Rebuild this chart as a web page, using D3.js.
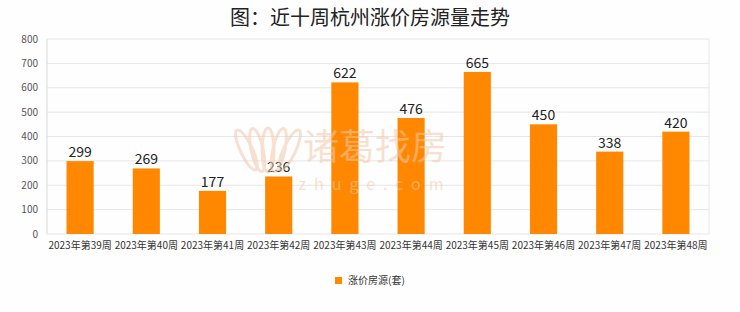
<!DOCTYPE html>
<html>
<head>
<meta charset="utf-8">
<script src="https://cdn.jsdelivr.net/npm/d3@7"></script>
<style>
  body { margin: 0; background: #fff; }
  text { font-family: "Noto Sans CJK SC", "Noto Sans", sans-serif; }
</style>
</head>
<body>
<div id="chart"></div>
<script>
const weeks = ["2023年第39周", "2023年第40周", "2023年第41周", "2023年第42周", "2023年第43周",
               "2023年第44周", "2023年第45周", "2023年第46周", "2023年第47周", "2023年第48周"];
const counts = [299, 269, 177, 236, 622, 476, 665, 450, 338, 420];
const yTicks = [0, 100, 200, 300, 400, 500, 600, 700, 800];

const width = 740, height = 312;
const margin = { top: 39, right: 31, bottom: 78, left: 47 };
const innerW = width - margin.left - margin.right;
const innerH = height - margin.top - margin.bottom;

const svg = d3.select("#chart").append("svg")
    .attr("width", width)
    .attr("height", height);

svg.append("rect").attr("width", width).attr("height", height).attr("fill", "#fefefe");

// title
svg.append("text")
    .attr("x", width / 2)
    .attr("y", 25)
    .attr("text-anchor", "middle")
    .attr("font-size", 20)
    .attr("font-weight", 400)
    .attr("fill", "#222")
    .text("图：近十周杭州涨价房源量走势");

const g = svg.append("g").attr("transform", `translate(${margin.left},${margin.top})`);

const x = d3.scaleBand().domain(weeks).range([0, innerW]).paddingInner(0.59).paddingOuter(0.295);
const y = d3.scaleLinear().domain([0, 800]).range([innerH, 0]);

// grid
g.selectAll(".grid").data(yTicks).enter().append("line")
    .attr("x1", 0).attr("x2", innerW)
    .attr("y1", d => y(d)).attr("y2", d => y(d))
    .attr("stroke", "#e6e6e6").attr("stroke-width", 1);
g.append("line").attr("x1", innerW).attr("x2", innerW).attr("y1", 0).attr("y2", innerH)
    .attr("stroke", "#e6e6e6");
g.append("line").attr("x1", 0).attr("x2", 0).attr("y1", 0).attr("y2", innerH)
    .attr("stroke", "#d9d9d9");

// watermark (logo petals + name)
const wm = svg.append("g").attr("opacity", 0.55);
[-18, -9, 0, 9, 18].forEach(a => {
    wm.append("ellipse")
        .attr("cx", 0).attr("cy", 0).attr("rx", 6).attr("ry", 22)
        .attr("fill", "none").attr("stroke", "#f3c9ab").attr("stroke-width", 3)
        .attr("transform", `translate(${268 + a * 1.2},150) rotate(${a * 1.4})`);
});
wm.append("text")
    .attr("x", 375).attr("y", 160)
    .attr("text-anchor", "middle")
    .attr("font-size", 36)
    .attr("fill", "#f3c9ab")
    .text("诸葛找房");
wm.append("text")
    .attr("x", 375).attr("y", 190)
    .attr("text-anchor", "middle")
    .attr("font-size", 16)
    .attr("letter-spacing", 8)
    .attr("fill", "#f3c9ab")
    .text("zhuge.com");

// y axis labels
g.selectAll(".ylab").data(yTicks).enter().append("text")
    .attr("x", -9)
    .attr("y", d => y(d))
    .attr("dy", "0.35em")
    .attr("text-anchor", "end")
    .attr("font-size", 10)
    .attr("fill", "#555")
    .text(d => d);

// bars
g.selectAll(".bar").data(counts).enter().append("rect")
    .attr("x", (d, i) => x(weeks[i]))
    .attr("y", d => y(d))
    .attr("width", x.bandwidth())
    .attr("height", d => innerH - y(d))
    .attr("fill", "#ff8800");

g.selectAll(".val").data(counts).enter().append("text")
    .attr("x", (d, i) => x(weeks[i]) + x.bandwidth() / 2)
    .attr("y", d => y(d) - 4)
    .attr("text-anchor", "middle")
    .attr("font-size", 14)
    .attr("fill", "#222")
    .text(d => d);

// x labels
g.selectAll(".xlab").data(weeks).enter().append("text")
    .attr("x", d => x(d) + x.bandwidth() / 2)
    .attr("y", innerH + 15)
    .attr("text-anchor", "middle")
    .attr("font-size", 10)
    .attr("fill", "#333")
    .text(d => d);

// legend
svg.append("rect").attr("x", 335).attr("y", 277).attr("width", 7).attr("height", 7).attr("fill", "#ff8800");
svg.append("text")
    .attr("x", 348).attr("y", 284)
    .attr("font-size", 10)
    .attr("fill", "#333")
    .text("涨价房源(套)");
</script>
</body>
</html>
